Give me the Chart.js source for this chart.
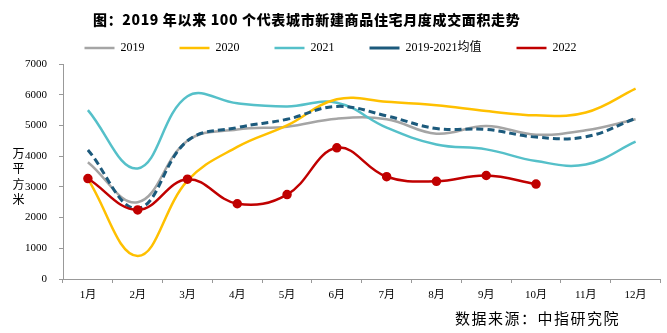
<!DOCTYPE html>
<html>
<head>
<meta charset="utf-8">
<script src="https://cdn.jsdelivr.net/npm/chart.js@4/dist/chart.umd.min.js"></script>
<style>
  html, body { margin: 0; padding: 0; background: #fff; }
  #wrap { position: relative; width: 667px; height: 333px; }
  #title {
    position: absolute; left: 93px; top: 9px; letter-spacing: 0.65px;
    font: 900 14px "Noto Sans CJK SC", sans-serif; color: #000; white-space: nowrap;
  }
  #unit {
    position: absolute; left: 11px; top: 147px; letter-spacing: 3.5px;
    writing-mode: vertical-rl; text-orientation: upright;
    font: 12px "Noto Sans CJK SC", serif; color: #000; line-height: 14px;
  }
  #src {
    position: absolute; left: 455px; top: 307px; letter-spacing: 1.5px;
    font: 15px "Noto Sans CJK SC", serif; color: #000; white-space: nowrap;
  }
</style>
</head>
<body>
<div id="wrap">
  <canvas id="chart" width="667" height="333"></canvas>
  <div id="title">图：2019 年以来 100 个代表城市新建商品住宅月度成交面积走势</div>
  <div id="unit">万平方米</div>
  <div id="src">数据来源：中指研究院</div>
</div>
<script>
// 月份
const months = ["1月", "2月", "3月", "4月", "5月", "6月", "7月", "8月", "9月", "10月", "11月", "12月"];

// 各年成交面积（万平方米、図から読み取り）
const v2019 = [3800, 2500, 4500, 4870, 4960, 5220, 5200, 4730, 4980, 4700, 4840, 5200];
const v2020 = [3250, 750, 3200, 4300, 5000, 5850, 5770, 5660, 5470, 5330, 5420, 6200];
const v2021 = [5500, 3600, 5950, 5720, 5620, 5740, 4930, 4380, 4220, 3840, 3730, 4470];
const vAvg = [4200, 2300, 4500, 4930, 5200, 5620, 5310, 4900, 4870, 4620, 4630, 5230];
const v2022 = [3270, 2250, 3250, 2450, 2750, 4270, 3330, 3180, 3370, 3090];

const yTicks = [0, 1000, 2000, 3000, 4000, 5000, 6000, 7000];

const tickFont = { family: "'Liberation Serif', 'Noto Sans CJK SC', serif", size: 11 };
const legendFont = { family: "'Liberation Serif', 'Noto Sans CJK SC', serif", size: 12 };

function line(label, data, color, order, extra) {
  return Object.assign({
    label,
    data,
    borderColor: color,
    backgroundColor: color,
    borderWidth: 2.5,
    pointRadius: 0,
    tension: 0.4,
    fill: false,
    order,
  }, extra || {});
}

new Chart(document.getElementById("chart"), {
  type: "line",
  data: {
    labels: months,
    datasets: [
      line("2019", v2019, "#A5A5A5", 4),
      line("2020", v2020, "#FFC000", 2),
      line("2021", v2021, "#55C0C9", 3),
      line("2019-2021均值", vAvg, "#1C5A7C", 1, { borderDash: [7, 4], borderWidth: 3 }),
      line("2022", v2022, "#C00000", 0, { pointRadius: 3.5, pointBackgroundColor: "#C00000", pointBorderColor: "#C00000" }),
    ],
  },
  options: {
    responsive: false,
    animation: false,
    layout: { padding: { top: 7, right: 6, left: 0, bottom: 0 } },
    plugins: {
      title: { display: false },
      tooltip: { enabled: false },
      legend: {
        position: "top",
        labels: {
          usePointStyle: true,
          pointStyleWidth: 30,
          padding: 35,
          color: "#000",
          font: legendFont,
          sort: (a, b) => a.datasetIndex - b.datasetIndex,
          generateLabels(chart) {
            const items = Chart.defaults.plugins.legend.labels.generateLabels(chart);
            items.forEach((it) => { it.pointStyle = "line"; });
            return items;
          },
        },
      },
    },
    scales: {
      x: {
        offset: true,
        grid: { offset: true, drawOnChartArea: false, drawTicks: true, tickLength: 4, color: "#999" },
        border: { color: "#999" },
        ticks: { color: "#000", font: tickFont, padding: 6, maxRotation: 0 },
        afterFit(scale) { scale.height = 54; },
      },
      y: {
        min: 0,
        max: 7000,
        afterBuildTicks(scale) { scale.ticks = yTicks.map((v) => ({ value: v })); },
        grid: { drawOnChartArea: false, drawTicks: true, tickLength: 4, color: "#999" },
        border: { color: "#999" },
        ticks: { color: "#000", font: tickFont, padding: 12, callback: (v) => String(v) },
        afterFit(scale) { scale.width = 63; },
      },
    },
  },
});
</script>
</body>
</html>
